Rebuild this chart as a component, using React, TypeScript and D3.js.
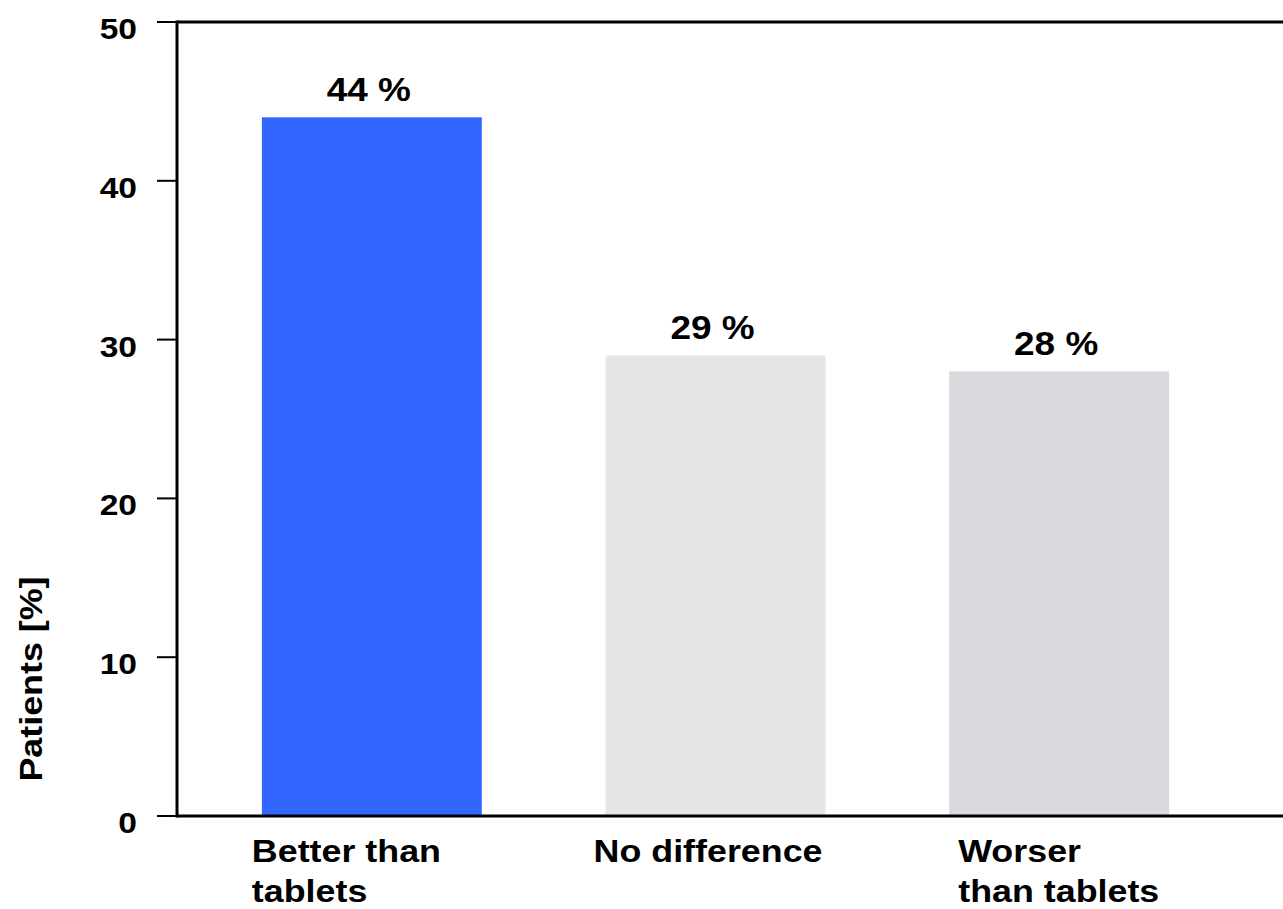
import React from "react";
import * as d3 from "d3";

// Patients' rating of the treatment compared with tablets
const categories: string[][] = [
  ["Better than", "tablets"],
  ["No difference"],
  ["Worser", "than tablets"],
];
const values: number[] = [44, 29, 28];
const barColors: string[] = ["#3366FF", "#E6E6E6", "#D9D9DE"];
const yTicks: number[] = [0, 10, 20, 30, 40, 50];
const yTitle = "Patients [%]";

const W = 1283;
const H = 909;
const FONT = "'Liberation Sans', Arial, Helvetica, sans-serif";
const SX = 1.12; // glyphs are set slightly wide
// horizontal nudge of each category caption relative to its bar's left edge
const captionDx: number[] = [-10, -12, 9];

export default function App() {
  const left = 177;
  const top = 22;
  const bottom = 816;

  const y = d3.scaleLinear().domain([0, 50]).range([bottom, top]);
  const x = d3
    .scaleBand<number>()
    .domain(values.map((_, i) => i))
    .range([200, 1231])
    .paddingInner(0.36)
    .paddingOuter(0.18);

  return (
    <svg
      width={W}
      height={H}
      style={{ position: "absolute", left: 0, top: 0, display: "block", background: "#fff" }}
      fontFamily={FONT}
      fontWeight="bold"
    >
      {/* bars */}
      {values.map((v, i) => (
        <rect
          key={`b${i}`}
          x={x(i)!}
          y={y(v)}
          width={x.bandwidth()}
          height={y(0) - y(v)}
          fill={barColors[i]}
        />
      ))}

      {/* value labels */}
      {values.map((v, i) => (
        <text
          key={`v${i}`}
          transform={`translate(${x(i)! + x.bandwidth() / 2 - 3},${y(v) - 16}) scale(${SX},1)`}
          textAnchor="middle"
          fontSize={33}
          fill="#000"
        >
          {`${d3.format("d")(v)} %`}
        </text>
      ))}

      {/* frame: left axis, top and bottom lines running off the right edge */}
      <line x1={left} x2={W + 20} y1={top} y2={top} stroke="#000" strokeWidth={3} />
      <line x1={left} x2={W + 20} y1={bottom} y2={bottom} stroke="#000" strokeWidth={3} />
      <line x1={left} x2={left} y1={top - 1.5} y2={bottom + 1.5} stroke="#000" strokeWidth={3} />

      {/* y ticks */}
      {yTicks.map((t) => (
        <g key={`t${t}`}>
          <line x1={157} x2={left} y1={y(t)} y2={y(t)} stroke="#000" strokeWidth={2} />
          <text
            transform={`translate(137,${y(t) + 17}) scale(${SX},1)`}
            textAnchor="end"
            fontSize={30}
            fill="#000"
          >
            {t}
          </text>
        </g>
      ))}

      {/* y title */}
      <text
        transform={`translate(42,679) rotate(-90) scale(${SX},1)`}
        textAnchor="middle"
        fontSize={32}
        fill="#000"
      >
        {yTitle}
      </text>

      {/* category captions */}
      {categories.map((lines, i) => (
        <g key={`c${i}`} transform={`translate(${x(i)! + captionDx[i]},862)`}>
          {lines.map((ln, j) => (
            <text
              key={j}
              transform={`translate(0,${j * 40}) scale(${SX},1)`}
              fontSize={32}
              fill="#000"
            >
              {ln}
            </text>
          ))}
        </g>
      ))}
    </svg>
  );
}
